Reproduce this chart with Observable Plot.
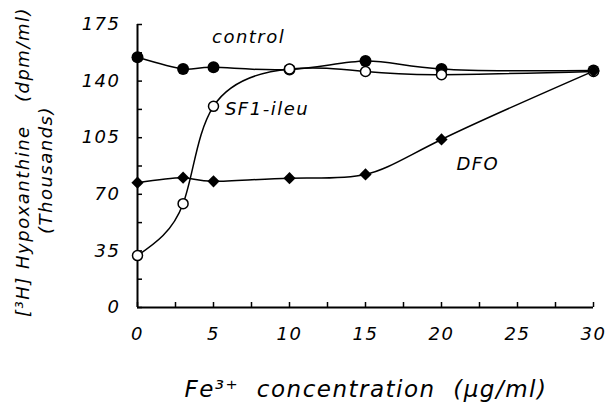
<!DOCTYPE html>
<html><head><meta charset="utf-8">
<script src="https://cdn.jsdelivr.net/npm/d3@7"></script>
<script src="https://cdn.jsdelivr.net/npm/@observablehq/plot@0.6"></script>
<style>body{margin:0;background:#fff}</style>
</head><body><div id="chart"></div>
<script>
const concentrations = [0, 3, 5, 10, 15, 20, 30];
const controlValues = [154.7, 147.5, 148.5, 147.2, 152.4, 147.5, 146.5];
const sf1Values = [32.1, 64.2, 124.4, 147.5, 145.9, 144.0, 146.0];
const dfoValues = [77.2, 80.3, 78.0, 80.0, 82.3, 103.9, 146.2];
const seriesNames = ["control", "SF1-ileu", "DFO"];
const xTicks = [0, 5, 10, 15, 20, 25, 30];
const xMinorTicks = [0, 2.5, 5, 7.5, 10, 12.5, 15, 17.5, 20, 22.5, 25, 27.5, 30];
const yTicks = [0, 35, 70, 105, 140, 175];
const yMinorTicks = [0, 17.5, 35, 52.5, 70, 87.5, 105, 122.5, 140, 157.5, 175];
const xLabel = "Fe³⁺  concentration  (µg/ml)";
const yLabel1a = "[³H] Hypoxanthine";
const yLabel1b = "(dpm/ml)";
const yLabel2 = "(Thousands)";

// annotation anchors (data units), kept separate from the data
const annotations = [
  {text: "control", x: 4.9, y: 167.3},
  {text: "SF1-ileu", x: 5.75, y: 122.6},
  {text: "DFO", x: 20.98, y: 88.7}
];

const rows = (name, vals) => concentrations.map((c, i) => ({series: name, x: c, y: vals[i]}));
const control = rows(seriesNames[0], controlValues);
const sf1 = rows(seriesNames[1], sf1Values);
const dfo = rows(seriesNames[2], dfoValues);
const all = [...control, ...sf1, ...dfo];

const W = 613, H = 406;
const M = {left: 137, right: 20, top: 24, bottom: 99};
const tickLen = 5;
const frameW = W - M.left - M.right, frameH = H - M.top - M.bottom;

const font = "DejaVu Sans";
const plot = Plot.plot({
  width: W, height: H,
  marginLeft: M.left, marginRight: M.right, marginTop: M.top, marginBottom: M.bottom,
  style: {fontFamily: font, fontStyle: "italic", fontSize: "18px", letterSpacing: "1.5px", background: "#fff", color: "#000"},
  x: {domain: [0, 30]},
  y: {domain: [0, 175]},
  marks: [
    Plot.axisX({ticks: xTicks, tickSize: 0, tickPadding: 20, label: null, fill: "#000"}),
    Plot.axisY({ticks: yTicks, tickSize: 0, tickPadding: 17, label: null, fill: "#000"}),
    // inward tick marks along the axes
    Plot.tickX(xMinorTicks, {x: d => d, insetTop: frameH - tickLen, stroke: "#000", strokeWidth: 1.5}),
    Plot.tickY(yMinorTicks, {y: d => d, insetRight: frameW - tickLen, stroke: "#000", strokeWidth: 1.5}),
    Plot.ruleX([0], {strokeWidth: 2}),
    Plot.ruleY([0], {strokeWidth: 2}),
    Plot.line(all, {x: "x", y: "y", z: "series", curve: "natural", stroke: "#000", strokeWidth: 1.5}),
    Plot.dot(control, {x: "x", y: "y", r: 6, fill: "#000"}),
    Plot.dot(sf1, {x: "x", y: "y", r: 5, fill: "#fff", stroke: "#000", strokeWidth: 1.5}),
    Plot.dot(dfo, {x: "x", y: "y", r: 5.5, symbol: "diamond2", fill: "#000"}),
    Plot.text(annotations, {x: "x", y: "y", text: "text", textAnchor: "start", fontSize: 18, fill: "#000"})
  ]
});

const svg = d3.select(plot);
const tstyle = sel => sel.attr("font-family", font).attr("font-style", "italic").attr("fill", "#000").attr("letter-spacing", "1.5px");
svg.append("text").call(tstyle).attr("font-size", 23).attr("text-anchor", "middle")
  .attr("x", 366).attr("y", 397).text(xLabel);
svg.append("text").call(tstyle).attr("font-size", 18).attr("text-anchor", "start")
  .attr("transform", "translate(29,317) rotate(-90)").text(yLabel1a);
svg.append("text").call(tstyle).attr("font-size", 18).attr("text-anchor", "end")
  .attr("transform", "translate(29,7) rotate(-90)").text(yLabel1b);
svg.append("text").call(tstyle).attr("font-size", 18).attr("text-anchor", "middle")
  .attr("transform", "translate(52,170) rotate(-90)").text(yLabel2);

document.getElementById("chart").append(plot);
</script></body></html>
